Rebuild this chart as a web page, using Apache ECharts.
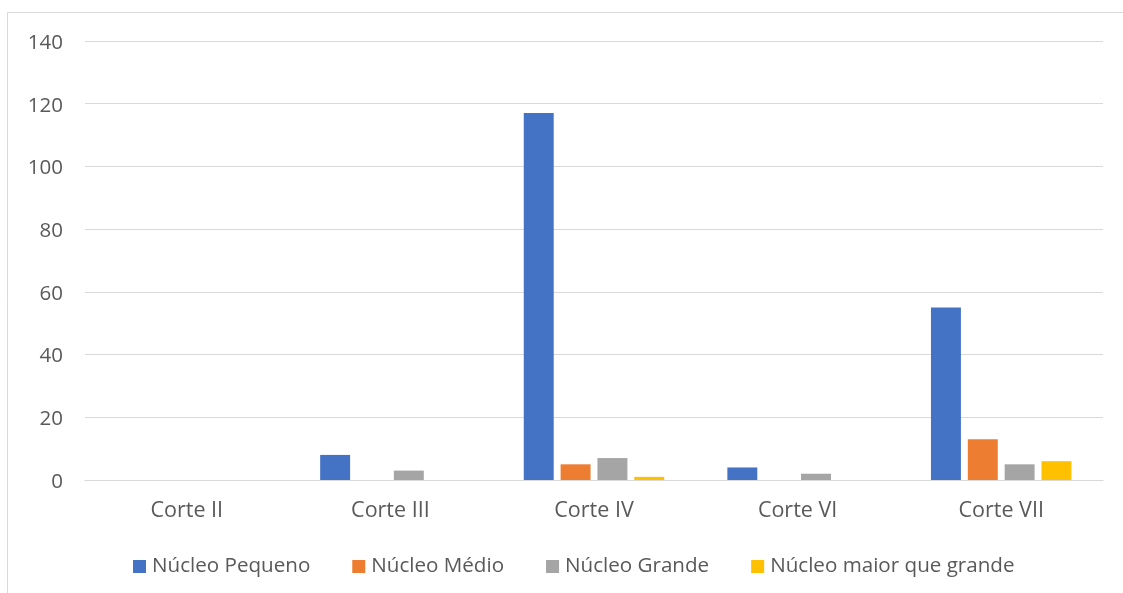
<!DOCTYPE html>
<html>
<head>
<meta charset="utf-8">
<script src="https://cdn.jsdelivr.net/npm/echarts@6/dist/echarts.min.js"></script>
<style>
  html, body { margin: 0; padding: 0; background: #fff; }
  #chart { width: 1123px; height: 593px; }
</style>
</head>
<body>
<div id="chart"></div>
<script>
// Categories and counts per nucleus size
const categories = ['Corte II', 'Corte III', 'Corte IV', 'Corte VI', 'Corte VII'];
const nucleoPequeno = [0, 8, 117, 4, 55];
const nucleoMedio = [0, 0, 5, 0, 13];
const nucleoGrande = [0, 3, 7, 2, 5];
const nucleoMaior = [0, 0, 1, 0, 6];
const yTicks = { min: 0, max: 140, interval: 20 };

const FONT = '"Open Sans", "Noto Sans", sans-serif';
const TEXT = '#595959';

const chart = echarts.init(document.getElementById('chart'), null, { renderer: 'canvas' });

function bar(name, data, color) {
  return {
    name: name,
    type: 'bar',
    data: data,
    barGap: '23%',
    barCategoryGap: '31%',
    itemStyle: { color: color },
    emphasis: { disabled: true }
  };
}

chart.setOption({
  animation: false,
  backgroundColor: '#fff',
  graphic: [{
    type: 'rect',
    shape: { x: 7.5, y: 12.5, width: 1130, height: 600 },
    style: { fill: 'none', stroke: '#d9d9d9', lineWidth: 1 },
    silent: true,
    z: -1
  }],
  grid: { left: 85, right: 20, top: 41, bottom: 113, containLabel: false },
  legend: {
    bottom: 11,
    left: 128,
    itemWidth: 13,
    itemHeight: 13,
    itemGap: 42,
    icon: 'rect',
    textStyle: { color: TEXT, fontSize: 20.6, fontFamily: FONT, padding: [0, 0, 0, 1] },
    data: ['Núcleo Pequeno', 'Núcleo Médio', 'Núcleo Grande', 'Núcleo maior que grande']
  },
  xAxis: {
    type: 'category',
    data: categories,
    axisLine: { lineStyle: { color: '#d9d9d9', width: 1 } },
    axisTick: { show: false },
    axisLabel: { color: TEXT, fontSize: 21.5, fontFamily: FONT, margin: 20 }
  },
  yAxis: {
    type: 'value',
    min: yTicks.min,
    max: yTicks.max,
    interval: yTicks.interval,
    axisLine: { show: false },
    axisTick: { show: false },
    splitLine: { lineStyle: { color: '#d9d9d9', width: 1 } },
    axisLabel: { color: TEXT, fontSize: 20.5, fontFamily: FONT, margin: 22, lineHeight: 24, verticalAlign: 'top', padding: [-10, 0, 0, 0] }
  },
  series: [
    bar('Núcleo Pequeno', nucleoPequeno, '#4472c4'),
    bar('Núcleo Médio', nucleoMedio, '#ed7d31'),
    bar('Núcleo Grande', nucleoGrande, '#a5a5a5'),
    bar('Núcleo maior que grande', nucleoMaior, '#ffc000')
  ]
});
</script>
</body>
</html>
